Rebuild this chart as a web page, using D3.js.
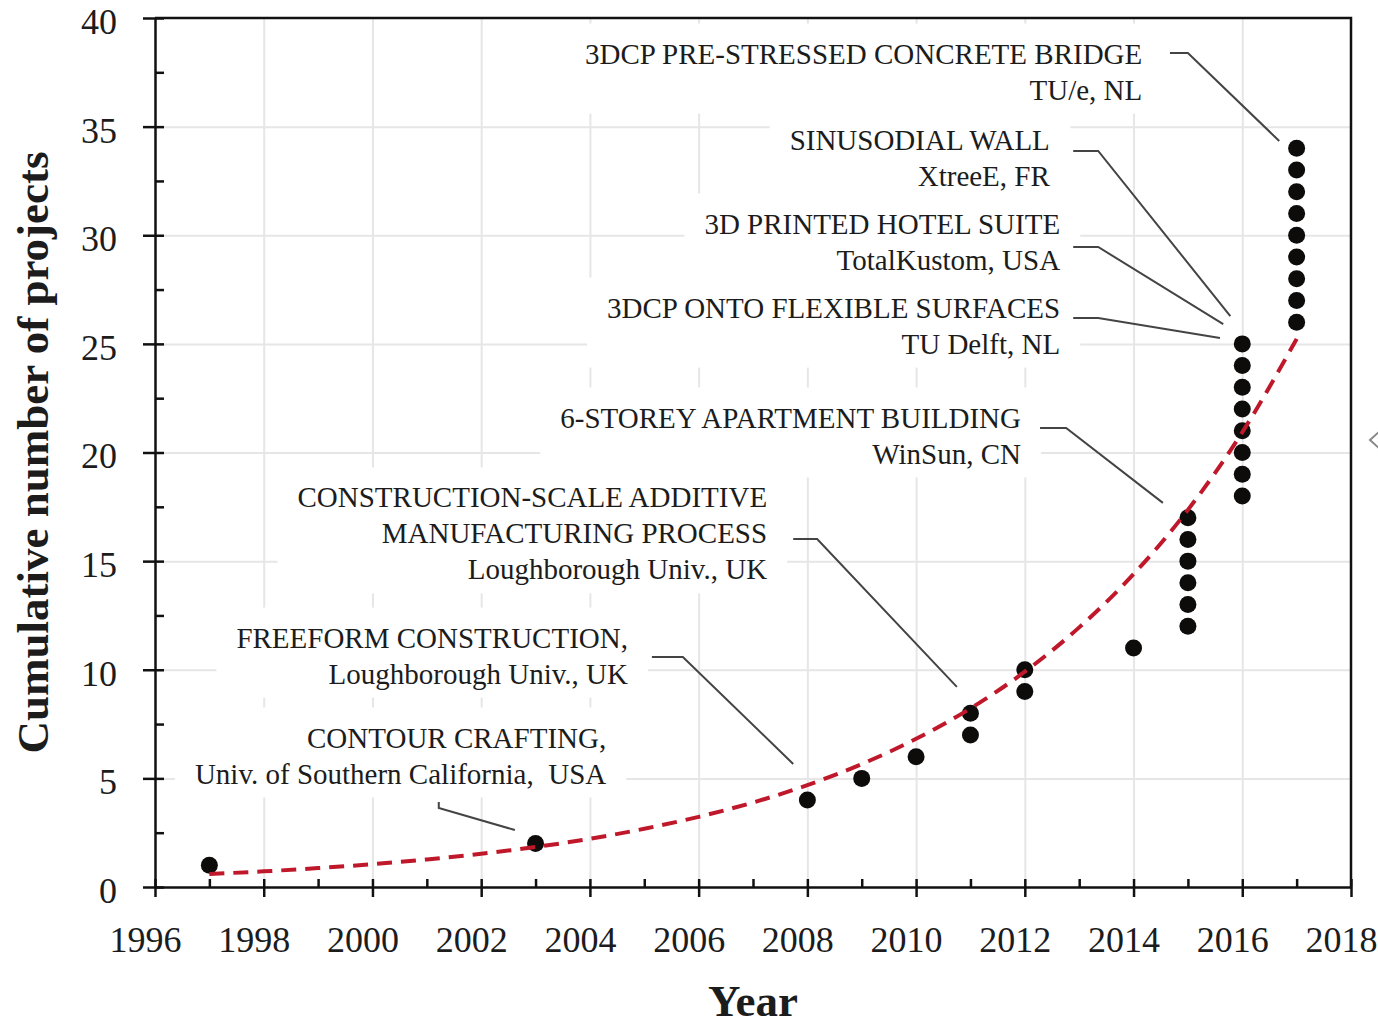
<!DOCTYPE html>
<html lang="en">
<head>
<meta charset="utf-8">
<title>Cumulative number of 3DCP projects</title>
<script src="https://d3js.org/d3.v7.min.js"></script>
<style>
  body { margin: 0; background: #fff; }
  svg text { font-family: "Liberation Serif", "Times New Roman", serif; fill: #1c1c1c; }
  .grid line { stroke: #e6e6e6; stroke-width: 2; }
  .grid .domain { display: none; }
  .axis .domain, .axis line, .frame { stroke: #111; stroke-width: 2.5; fill: none; }
  .axis text { font-size: 36px; }
  .title { font-size: 45px; font-weight: bold; }
  .note { font-size: 29px; white-space: pre; }
  .leader { fill: none; stroke: #444; stroke-width: 2; }
</style>
</head>
<body>
<div id="chart"></div>
<script>

// ---- data ----------------------------------------------------------------
var projectYears = [1997, 2003, 2008, 2009, 2010, 2011, 2011, 2012, 2012, 2014,
                    2015, 2015, 2015, 2015, 2015, 2015,
                    2016, 2016, 2016, 2016, 2016, 2016, 2016, 2016,
                    2017, 2017, 2017, 2017, 2017, 2017, 2017, 2017, 2017];
var cumulativeCount = [1, 2, 4, 5, 6, 7, 8, 9, 10, 11,
                       12, 13, 14, 15, 16, 17,
                       18, 19, 20, 21, 22, 23, 24, 25,
                       26, 27, 28, 29, 30, 31, 32, 33, 34];

// exponential trend line
var trendYears = [1997, 1998, 1999, 2000, 2001, 2002, 2003, 2004, 2005, 2006, 2007,
                  2008, 2009, 2010, 2011, 2012, 2013, 2014, 2015, 2016, 2017];
var trendValues = [0.60, 0.72, 0.87, 1.05, 1.27, 1.53, 1.84, 2.22, 2.68, 3.23, 3.89,
                   4.69, 5.66, 6.82, 8.22, 9.91, 11.95, 14.40, 17.36, 20.93, 25.23];

var xTicks = [1996, 1998, 2000, 2002, 2004, 2006, 2008, 2010, 2012, 2014, 2016, 2018];
var xMinorTicks = [1997, 1999, 2001, 2003, 2005, 2007, 2009, 2011, 2013, 2015, 2017];
var yTicks = [0, 5, 10, 15, 20, 25, 30, 35, 40];
var yMinorTicks = [2.5, 7.5, 12.5, 17.5, 22.5, 27.5, 32.5, 37.5];

// annotations: text lines, right edge / first line centre, leader line (data units)
var noteLines = [
  ["3DCP PRE-STRESSED CONCRETE BRIDGE", "TU/e, NL"],
  ["SINUSODIAL WALL", "XtreeE, FR"],
  ["3D PRINTED HOTEL SUITE", "TotalKustom, USA"],
  ["3DCP ONTO FLEXIBLE SURFACES", "TU Delft, NL"],
  ["6-STOREY APARTMENT BUILDING", "WinSun, CN"],
  ["CONSTRUCTION-SCALE ADDITIVE", "MANUFACTURING PROCESS", "Loughborough Univ., UK"],
  ["FREEFORM CONSTRUCTION,", "Loughborough Univ., UK"],
  ["CONTOUR CRAFTING,", "Univ. of Southern California,  USA"]
];
var noteAnchors = [
  [2014.16, 38.34], [2012.46, 34.38], [2012.65, 30.52], [2012.65, 26.65],
  [2011.93, 21.59], [2007.26, 17.91], [2004.70, 11.46], [2004.30, 6.86]
];
var noteLeaders = [
  [[2014.67, 38.39], [2015.00, 38.39], [2016.68, 34.34]],
  [[2012.89, 33.88], [2013.35, 33.88], [2015.78, 26.28]],
  [[2012.89, 29.46], [2013.35, 29.46], [2015.65, 25.91]],
  [[2012.89, 26.19], [2013.35, 26.19], [2015.59, 25.27]],
  [[2012.28, 21.13], [2012.76, 21.13], [2014.54, 17.68]],
  [[2007.74, 16.02], [2008.18, 16.02], [2010.75, 9.21]],
  [[2005.14, 10.59], [2005.71, 10.59], [2007.74, 5.66]],
  [[2001.22, 3.91], [2001.22, 3.64], [2002.62, 2.62]]
];

// ---- layout ----------------------------------------------------------------
var width = 1378, height = 1023;
var plotLeft = 155, plotRight = 1351, plotTop = 18, plotBottom = 887;
var lineGap = 36;

var svg = d3.select("#chart").append("svg")
    .attr("width", width)
    .attr("height", height);

var x = d3.scaleLinear().domain([1996, 2018]).range([plotLeft, plotRight]);
var y = d3.scaleLinear().domain([0, 40]).range([plotBottom, plotTop]);

// grid
svg.append("g")
    .attr("class", "grid")
    .attr("transform", "translate(0," + plotBottom + ")")
    .call(d3.axisBottom(x).tickValues(xTicks.slice(1, -1)).tickSize(-(plotBottom - plotTop)).tickFormat(""));
svg.append("g")
    .attr("class", "grid")
    .attr("transform", "translate(" + plotLeft + ",0)")
    .call(d3.axisLeft(y).tickValues(yTicks.slice(1, -1)).tickSize(-(plotRight - plotLeft)).tickFormat(""));

// annotation text (white boxes hide the grid behind them)
var notes = svg.append("g").selectAll("g")
    .data(noteLines)
    .enter().append("g");

var noteText = notes.append("text")
    .attr("class", "note")
    .attr("text-anchor", "end");

noteText.selectAll("tspan")
    .data(function(d, i) { return d.map(function(s) { return {s: s, k: i}; }); })
    .enter().append("tspan")
    .attr("x", function(d) { return x(noteAnchors[d.k][0]); })
    .attr("y", function(d, j) { return y(noteAnchors[d.k][1]) + j * lineGap; })
    .attr("dy", "0.33em")
    .text(function(d) { return d.s; });

noteText.each(function() {
  var b = this.getBBox();
  d3.select(this.parentNode).insert("rect", "text")
      .attr("x", b.x - 20)
      .attr("y", b.y - 14)
      .attr("width", b.width + 40)
      .attr("height", b.height + 22)
      .attr("fill", "#fff");
});

// axes
var xAxis = svg.append("g")
    .attr("class", "axis")
    .attr("transform", "translate(0," + plotBottom + ")")
    .call(d3.axisBottom(x).tickValues(xTicks).tickSize(10).tickSizeOuter(0).tickFormat(d3.format("d")));
xAxis.selectAll(".tick line").attr("y1", -8);
xAxis.selectAll(".tick text").attr("y", 65).attr("dy", 0).attr("dx", -10);

svg.append("g")
    .attr("class", "axis")
    .attr("transform", "translate(0," + plotBottom + ")")
    .call(d3.axisBottom(x).tickValues(xMinorTicks).tickSize(-8).tickSizeOuter(0).tickFormat(""))
  .select(".domain").remove();

var yAxis = svg.append("g")
    .attr("class", "axis")
    .attr("transform", "translate(" + plotLeft + ",0)")
    .call(d3.axisLeft(y).tickValues(yTicks).tickSize(12).tickSizeOuter(0));
yAxis.selectAll(".tick line").attr("x1", 9);
yAxis.selectAll(".tick text").attr("x", -38).attr("dy", "0.43em");

svg.append("g")
    .attr("class", "axis")
    .attr("transform", "translate(" + plotLeft + ",0)")
    .call(d3.axisLeft(y).tickValues(yMinorTicks).tickSize(-9).tickSizeOuter(0).tickFormat(""))
  .select(".domain").remove();

svg.append("path")
    .attr("class", "frame")
    .attr("d", "M" + x(1996) + "," + y(40) + "H" + x(2018) + "V" + y(0));

// axis titles
svg.append("text")
    .attr("class", "title")
    .attr("text-anchor", "middle")
    .attr("x", (plotLeft + plotRight) / 2)
    .attr("y", 1016)
    .text("Year");

svg.append("text")
    .attr("class", "title")
    .attr("text-anchor", "middle")
    .attr("transform", "translate(48," + (plotTop + plotBottom) / 2 + ") rotate(-90)")
    .text("Cumulative number of projects");

// leader lines
svg.append("g").selectAll("path")
    .data(noteLeaders)
    .enter().append("path")
    .attr("class", "leader")
    .attr("d", d3.line()
        .x(function(d) { return x(d[0]); })
        .y(function(d) { return y(d[1]); }));

// projects
svg.append("g").selectAll("circle")
    .data(cumulativeCount)
    .enter().append("circle")
    .attr("cx", function(d, i) { return x(projectYears[i]); })
    .attr("cy", function(d) { return y(d); })
    .attr("r", 8.5)
    .attr("fill", "#0e0c0a");

// trend line
svg.append("path")
    .datum(trendValues)
    .attr("fill", "none")
    .attr("stroke", "#c0182b")
    .attr("stroke-width", 4)
    .attr("stroke-dasharray", "15,9")
    .attr("d", d3.line()
        .curve(d3.curveMonotoneX)
        .x(function(d, i) { return x(trendYears[i]); })
        .y(function(d) { return y(d); }));

// small chevron at the right edge of the original image
svg.append("path")
    .attr("fill", "none")
    .attr("stroke", "#888")
    .attr("stroke-width", 2)
    .attr("d", "M1381,430L1370,440L1381,450");

</script>
</body>
</html>
